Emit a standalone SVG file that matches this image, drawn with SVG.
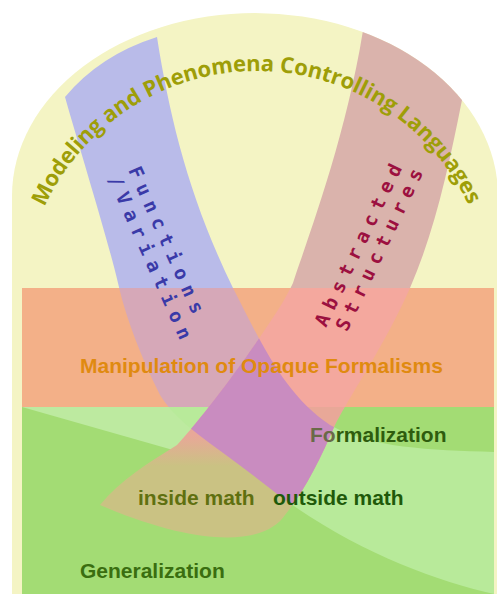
<svg xmlns="http://www.w3.org/2000/svg" width="497" height="594" viewBox="0 0 497 594">
<style>
.lbl{font-family:'Liberation Sans',Arial,sans-serif;font-weight:bold;font-size:21px}
.band{font-family:'DejaVu Sans Mono',monospace;font-weight:bold;font-size:19px;letter-spacing:7px}
</style>
<defs>
<path id="arch" d="M12,594 L12,196 A243,183 0 0 1 498,196 L498,594 Z"/>
<path id="bandB" d="M65,97 Q100,55 157,37 C170,120 190,200 233,288 C262,345 285,395 330,425 C370,448 430,450 494,452 L494,594 C430,580 340,545 263,483 C215,445 178,425 160,395 C140,355 125,315 118,283 C108,240 80,150 65,97 Z"/>
<path id="bandR" d="M355,10 L495,60 L462,100 C448,170 435,230 410,288 C385,345 350,395 335,425 C320,460 305,490 285,515 C265,545 200,548 100,505 C120,480 150,462 177,445 C200,420 232,378 260,337 C275,315 285,300 293,283 C305,245 350,130 366,10 Z"/>
<path id="arcPath" d="M41.6,213.6 A234,234 0 0 1 472.4,213.6"/>
<clipPath id="cArch"><use href="#arch"/></clipPath>
<clipPath id="cOrange"><rect x="22" y="288" width="472" height="119"/></clipPath>
<clipPath id="cGreen"><rect x="22" y="407" width="472" height="187"/></clipPath>
<clipPath id="cB"><use href="#bandB"/></clipPath>
<linearGradient id="gTan" gradientUnits="userSpaceOnUse" x1="0" y1="436" x2="0" y2="466">
<stop offset="0" stop-color="#e8a898"/><stop offset="1" stop-color="#cac283"/>
</linearGradient>
</defs>

<g id="background">
<use href="#arch" fill="#f4f4c4"/>
<g clip-path="url(#cArch)">
<use href="#bandB" fill="#b9bbe9"/>
<use href="#bandR" fill="#dab3ac"/>
</g>
</g>

<g id="manipulation">
<rect x="22" y="288" width="472" height="119" fill="#f3b088"/>
<g clip-path="url(#cOrange)">
<use href="#bandB" fill="#d6a8b8"/>
<use href="#bandR" fill="#f4a89e"/>
</g>
</g>

<g id="formalization-area">
<rect x="22" y="407" width="472" height="187" fill="#a3dc74"/>
<polygon points="22,407 200,407 190,440 173,450" fill="#bdeaa0"/>
<g clip-path="url(#cGreen)">
<use href="#bandB" fill="#b8ea9a"/>
<use href="#bandR" fill="url(#gTan)"/>
</g>
</g>

<g id="overlap" clip-path="url(#cB)">
<use href="#bandR" fill="#c98cc0"/>
</g>

<g id="modeling">
<text font-family="'Open Sans','DejaVu Sans',sans-serif" font-weight="700" font-size="22" fill="#9e9e08"><textPath href="#arcPath" startOffset="7" textLength="531" lengthAdjust="spacing">Modeling and Phenomena Controlling Languages</textPath></text>
</g>

<g id="functions" class="band" fill="#3a3aa8" transform="translate(128,170) rotate(66)">
<text x="0" y="0">Functions</text>
<text x="0" y="22">/Variation</text>
</g>

<g id="structures" class="band" fill="#9c1040" transform="translate(326,328) rotate(-64.5)">
<text x="0" y="0">Abstracted</text>
<text x="5" y="21">Structures</text>
</g>

<g id="labels" class="lbl">
<text x="80" y="373" fill="#e08a10">Manipulation of Opaque Formalisms</text>
<text x="310" y="442" fill="#2e5c0e"><tspan fill="#6a6a48">Fo</tspan>rmalization</text>
<text x="138" y="505" fill="#5f7010">inside math</text>
<text x="273" y="505" fill="#1f5a0a">outside math</text>
<text x="80" y="578" fill="#3a6e10">Generalization</text>
</g>
</svg>
